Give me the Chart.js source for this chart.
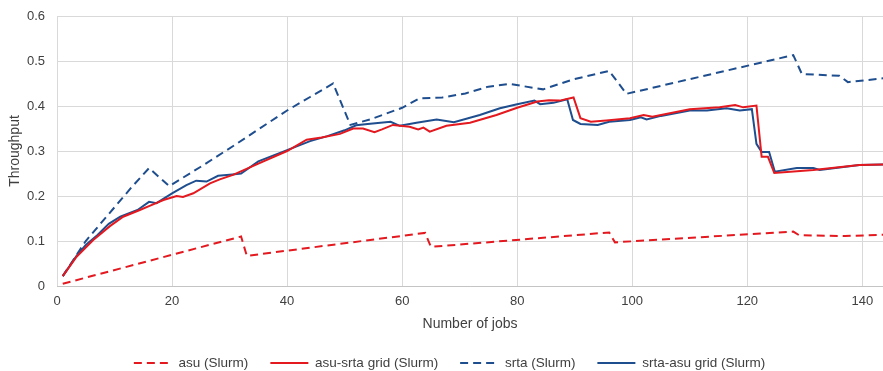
<!DOCTYPE html>
<html lang="en">
<head>
  <meta charset="UTF-8">
  <title>Throughput vs number of jobs</title>
  <script src="https://cdn.jsdelivr.net/npm/chart.js"></script>
  <style>
    body { margin: 0; background: #fff; }
    canvas { display: block; }
  </style>
</head>
<body>
<canvas id="chart" width="883" height="371"></canvas>

<script>
  // asu (Slurm) - red dashed
  const asuX = [1, 32, 33, 64, 65, 96, 97, 128, 129, 137, 144];
  const asuY = [0.005, 0.110, 0.067, 0.118, 0.087, 0.119, 0.097, 0.121, 0.113, 0.111, 0.114];

  // asu-srta grid (Slurm) - red solid
  const asuGridX = [1, 3.4, 6.3, 9.2, 11.5, 14.4, 16.1, 18.5, 20.8, 21.9, 23.7, 26.6, 28.3, 30.6, 35, 40,
    43.4, 46, 49.2, 51.5, 53.2, 55.2, 56.5, 58.4, 61.3, 62.8, 63.7, 64.8, 67.7, 71.8, 76.4, 80, 83.5,
    85.5, 87.4, 89.8, 91, 92.8, 95.5, 99.6, 102, 103.5, 110, 115.2, 117.9, 119.3, 121.6, 122.5, 123.6,
    124.7, 131.5, 139.5, 144];
  const asuGridY = [0.022, 0.065, 0.102, 0.133, 0.154, 0.169, 0.178, 0.191, 0.200, 0.198, 0.206, 0.228,
    0.237, 0.247, 0.272, 0.300, 0.325, 0.330, 0.338, 0.350, 0.350, 0.342, 0.348, 0.358, 0.354, 0.348,
    0.352, 0.343, 0.356, 0.363, 0.380, 0.396, 0.410, 0.413, 0.412, 0.419, 0.373, 0.365, 0.368, 0.373,
    0.380, 0.376, 0.393, 0.397, 0.402, 0.397, 0.401, 0.287, 0.287, 0.251, 0.258, 0.269, 0.270];

  // srta (Slurm) - blue dashed
  const srtaX = [1, 5, 10, 13, 16, 19.5, 25, 30.5, 40, 44, 48, 51, 54.4, 60, 63, 67, 71, 75, 78.7,
    84.5, 89.7, 96, 99, 128, 129.5, 136, 137.5, 144];
  const srtaY = [0.022, 0.100, 0.175, 0.220, 0.262, 0.222, 0.265, 0.310, 0.390, 0.420, 0.450, 0.358,
    0.370, 0.396, 0.417, 0.419, 0.428, 0.443, 0.449, 0.437, 0.459, 0.478, 0.427, 0.513, 0.471, 0.467,
    0.453, 0.462];

  // srta-asu grid (Slurm) - blue solid
  const srtaGridX = [1, 3.4, 5, 7, 9, 11, 14, 16, 17.3, 20, 22.5, 24.2, 26, 28, 30.5, 32, 35, 40, 44,
    47, 50, 52, 54, 58, 59.6, 62.5, 66, 69, 73.5, 77, 80, 83, 84, 86.3, 88.7, 89.7, 91, 94, 96, 99.6,
    101.5, 102.5, 105, 110, 113, 116.4, 118.7, 120.8, 121.6, 122.5, 123.8, 124.8, 128.6, 131.5, 132.6,
    139.5, 144];
  const srtaGridY = [0.022, 0.067, 0.091, 0.113, 0.138, 0.154, 0.169, 0.187, 0.184, 0.206, 0.224, 0.234,
    0.232, 0.245, 0.248, 0.250, 0.277, 0.302, 0.322, 0.333, 0.346, 0.357, 0.360, 0.365, 0.356, 0.363,
    0.370, 0.364, 0.380, 0.395, 0.404, 0.412, 0.404, 0.407, 0.415, 0.369, 0.360, 0.358, 0.365, 0.369,
    0.375, 0.370, 0.378, 0.390, 0.390, 0.395, 0.390, 0.393, 0.316, 0.298, 0.298, 0.254, 0.262, 0.262,
    0.258, 0.269, 0.270];

  const RED = '#e3191f';
  const BLUE = '#1f4e8f';
  const TEXT = '#404040';
  const LEGEND_PAD = 22;

  function pts(xs, ys) {
    return xs.map((x, i) => ({ x: x, y: ys[i] }));
  }

  function line(label, xs, ys, color, dashed) {
    return {
      label: label,
      data: pts(xs, ys),
      borderColor: color,
      backgroundColor: color,
      borderWidth: 2,
      borderDash: dashed ? [8, 5] : [],
      pointRadius: 0,
      tension: 0,
      fill: false
    };
  }

  // legend sits lower and a bit right of centre in the original
  const shiftLegend = {
    id: 'shiftLegend',
    afterLayout(chart) {
      const lg = chart.legend;
      const dy = 363 - (lg.top + LEGEND_PAD + 6.75);
      lg.top += dy; lg.bottom += dy;
      lg.left += 8; lg.right += 8;
    }
  };

  Chart.defaults.font.family = '"Liberation Sans", Arial, sans-serif';
  Chart.defaults.font.size = 13;
  Chart.defaults.color = TEXT;

  new Chart(document.getElementById('chart'), {
    type: 'line',
    data: {
      datasets: [
        line('asu (Slurm)', asuX, asuY, RED, true),
        line('asu-srta grid (Slurm)', asuGridX, asuGridY, RED, false),
        line('srta (Slurm)', srtaX, srtaY, BLUE, true),
        line('srta-asu grid (Slurm)', srtaGridX, srtaGridY, BLUE, false)
      ]
    },
    plugins: [shiftLegend],
    options: {
      responsive: false,
      animation: false,
      layout: { padding: 0 },
      plugins: {
        tooltip: { enabled: false },
        legend: {
          position: 'bottom',
          labels: {
            usePointStyle: true,
            pointStyle: 'line',
            pointStyleWidth: 38,
            padding: LEGEND_PAD,
            color: TEXT,
            font: { size: 13.5 },
            generateLabels: chart => {
              const items = Chart.defaults.plugins.legend.labels.generateLabels(chart);
              items.forEach(it => {
                const ds = chart.data.datasets[it.datasetIndex];
                it.lineDash = ds.borderDash;
                it.lineWidth = 2;
                it.strokeStyle = ds.borderColor;
              });
              return items;
            }
          }
        }
      },
      scales: {
        x: {
          type: 'linear',
          min: 0,
          max: 143.6,
          grid: { color: '#d9d9d9', drawTicks: false },
          border: { color: '#c4c4c4' },
          ticks: { stepSize: 20, includeBounds: false, padding: 8 },
          title: { display: true, text: 'Number of jobs', font: { size: 14 }, padding: { top: 4, bottom: -7 } },
          afterFit: s => { s.height = 371 - 286 - (13.5 + LEGEND_PAD + 10); }
        },
        y: {
          min: 0,
          max: 0.6,
          grid: { color: '#d9d9d9', drawTicks: false },
          border: { display: false },
          ticks: { stepSize: 0.1, padding: 12 },
          title: { display: true, text: 'Throughput', font: { size: 14 }, padding: { top: 7, bottom: 4 } },
          afterFit: s => { s.width = 57; s.paddingTop = 16; s.paddingBottom = 0; }
        }
      }
    }
  });
</script>
</body>
</html>
